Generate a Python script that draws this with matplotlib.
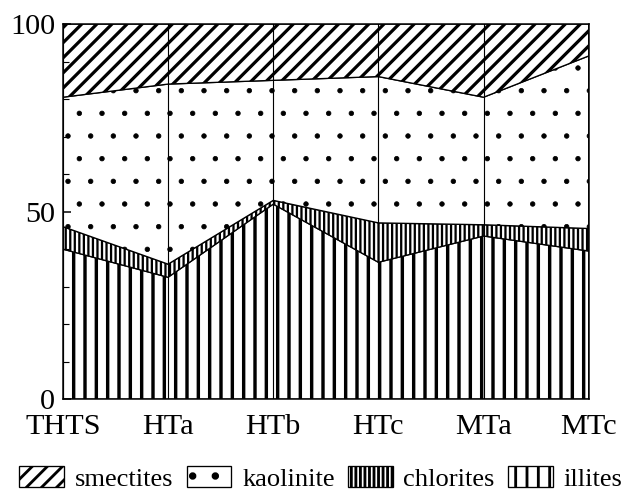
import numpy as np
import matplotlib.pyplot as plt

samples = ["THTS", "HTa", "HTb", "HTc", "MTa", "MTc"]
illites = [40, 32.5, 52, 36.5, 43.5, 39.5]
chlorites = [6, 3.5, 1, 10.5, 3, 6]
kaolinite = [34.5, 48, 32, 39, 34, 46]
smectites = [19.5, 16, 15, 14, 19.5, 8.5]

plt.rcParams['font.family'] = ['Liberation Serif', 'DejaVu Serif']
plt.rcParams['hatch.linewidth'] = 1.5

DPI = 136
fig = plt.figure(figsize=(629 / DPI, 491 / DPI), dpi=DPI)
ax = fig.add_axes([0.100, 0.187, 0.836, 0.764])

x = np.arange(len(samples))
# bottom to top: illites, chlorites, kaolinite, smectites
layers = [
    ("illites", illites, '||', 1.8),
    ("chlorites", chlorites, '|||||', 1.2),
    ("kaolinite", kaolinite, '.', 0.4),
    ("smectites", smectites, '///', 1.7),
]
base = np.zeros(len(samples))
handles = {}
for name, vals, hatch, hlw in layers:
    top = base + np.array(vals)
    h = ax.fill_between(x, base, top, facecolor='white', edgecolor='black',
                        hatch=hatch, linewidth=0.7, label=name)
    if hasattr(h, 'set_hatch_linewidth'):
        h.set_hatch_linewidth(hlw)
    handles[name] = h
    base = top

ax.set_xlim(0, len(samples) - 1)
ax.set_ylim(0, 100)
ax.set_xticks(x)
ax.set_xticklabels(samples, fontsize=16)
ax.tick_params(axis='x', length=0, pad=8)
ax.set_yticks([0, 50, 100])
ax.set_yticks(np.arange(0, 101, 10), minor=True)
ax.tick_params(axis='y', which='both', direction='in', labelsize=16, pad=4)
ax.tick_params(axis='y', which='major', length=4)
ax.tick_params(axis='y', which='minor', length=3)
ax.grid(axis='x', color='black', lw=0.6)
ax.set_axisbelow(False)
for s in ax.spines.values():
    s.set_linewidth(0.8)

order = ["smectites", "kaolinite", "chlorites", "illites"]
fig.legend([handles[n] for n in order], order, loc='center', bbox_to_anchor=(0.51, 0.026),
           ncol=4, frameon=False, fontsize=14, handlelength=1.7, handleheight=0.85,
           columnspacing=0.5, handletextpad=0.4, borderpad=0, borderaxespad=0)

fig.savefig("out.png", dpi=DPI)
